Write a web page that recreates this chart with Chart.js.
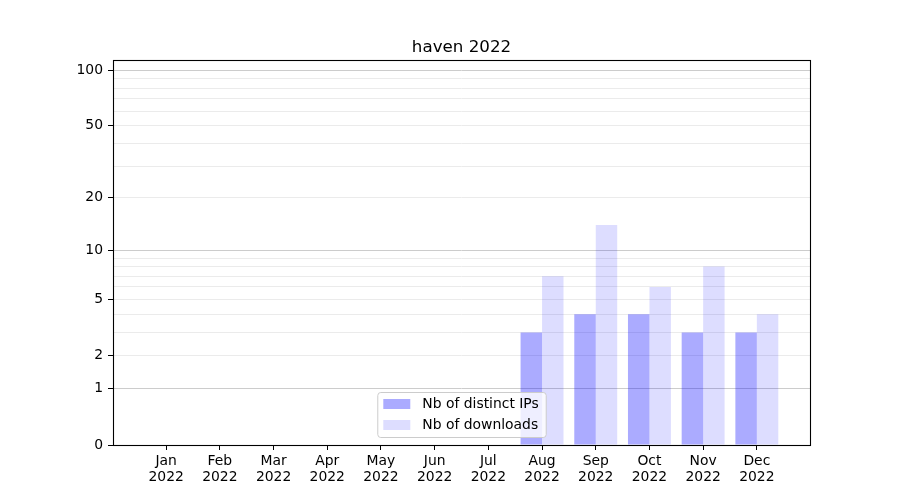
<!DOCTYPE html>
<html lang="en">
<head>
<meta charset="UTF-8" />
<title>haven 2022</title>
<script src="https://cdn.jsdelivr.net/npm/chart.js@4"></script>
<style>
  html, body { margin: 0; padding: 0; background: #fff; }
  #wrap { width: 900px; height: 500px; }
</style>
</head>
<body>
<div id="wrap"><canvas id="chart" width="900" height="500"></canvas></div>
<script>
    // --- data ---
    const months = ["Jan", "Feb", "Mar", "Apr", "May", "Jun", "Jul", "Aug", "Sep", "Oct", "Nov", "Dec"];
    const years = ["2022", "2022", "2022", "2022", "2022", "2022", "2022", "2022", "2022", "2022", "2022", "2022"];
    const distinctIPs = [0, 0, 0, 0, 0, 0, 0, 3, 4, 4, 3, 3];
    const downloads = [0, 0, 0, 0, 0, 0, 0, 7, 14, 6, 8, 4];
    const yTickLabels = [0, 1, 2, 5, 10, 20, 50, 100];
    const yMajorGrid = [1, 10, 100];
    const yMinorGrid = [2, 3, 4, 5, 6, 7, 8, 9, 20, 30, 40, 50, 60, 70, 80, 90];

    const FONT = "'DejaVu Sans', sans-serif";

    // y axis in matplotlib is a log(1 + x) "function" scale
    class Log1pScale extends Chart.Scale {
        static id = "log1p";
        static defaults = {};

        determineDataLimits() {
            const { min, max } = this.getMinMax(true);
            this.min = Number.isFinite(this.options.min) ? this.options.min : min;
            this.max = Number.isFinite(this.options.max) ? this.options.max : max;
        }

        buildTicks() {
            const all = [...new Set([0, ...yMajorGrid, ...yMinorGrid, ...yTickLabels])].sort((a, b) => a - b);
            return all.filter(v => v >= this.min && v <= this.max).map(v => ({ value: v }));
        }

        configure() {
            super.configure();
            this._lo = Math.log10(1 + this.min);
            this._span = Math.log10(1 + this.max) - this._lo;
        }

        getLabelForValue(v) { return String(v); }

        getPixelForValue(v) {
            return this.getPixelForDecimal((Math.log10(1 + v) - this._lo) / this._span);
        }

        getValueForPixel(p) {
            return Math.pow(10, this._lo + this.getDecimalForPixel(p) * this._span) - 1;
        }
    }
    Chart.register(Log1pScale);

    const frameAndLegend = {
        id: "frameAndLegend",
        afterDatasetsDraw(chart) {
            const { ctx, chartArea: a } = chart;
            ctx.save();
            // axes frame
            ctx.strokeStyle = "#000";
            ctx.lineWidth = 1.1;
            ctx.strokeRect(Math.round(a.left) + 0.5, Math.round(a.top) + 0.5,
                Math.round(a.right - a.left), Math.round(a.bottom - a.top));

            // legend, lower center inside the plot
            ctx.font = "13.9px " + FONT;
            const items = chart.data.datasets;
            const textW = Math.max(...items.map(d => ctx.measureText(d.label).width));
            const boxW = 6 + 27 + 12 + textW + 7;
            const rowH = 21;
            const boxH = 3 + rowH * items.length;
            const x0 = (a.left + a.right) / 2 - boxW / 2;
            const y0 = a.bottom - 8 - boxH;
            ctx.beginPath();
            ctx.roundRect(x0 + 0.5, y0 + 0.5, boxW, boxH, 3);
            ctx.fillStyle = "rgba(255,255,255,0.8)";
            ctx.fill();
            ctx.strokeStyle = "#cccccc";
            ctx.lineWidth = 1;
            ctx.stroke();
            items.forEach((d, i) => {
                const cy = y0 + 12 + i * rowH;
                ctx.fillStyle = d.backgroundColor;
                ctx.fillRect(x0 + 6, cy - 5, 27, 10);
                ctx.fillStyle = "#000";
                ctx.textBaseline = "middle";
                ctx.fillText(d.label, x0 + 45, cy);
            });
            ctx.restore();
        }
    };

    const ctx = document.getElementById("chart").getContext("2d");
    new Chart(ctx, {
        type: "bar",
        data: {
            datasets: [
                {
                    label: "Nb of distinct IPs",
                    data: distinctIPs.map((v, i) => ({ x: i, y: v })),
                    backgroundColor: "rgba(0,0,255,0.33)",
                    borderWidth: 0,
                    categoryPercentage: 0.8,
                    barPercentage: 1.0
                },
                {
                    label: "Nb of downloads",
                    data: downloads.map((v, i) => ({ x: i, y: v })),
                    backgroundColor: "rgba(0,0,255,0.135)",
                    borderWidth: 0,
                    categoryPercentage: 0.8,
                    barPercentage: 1.0
                }
            ]
        },
        options: {
            responsive: false,
            animation: false,
            layout: { padding: { left: 0, right: 90, top: 0, bottom: 0 } },
            plugins: {
                legend: { display: false },
                tooltip: { enabled: false },
                title: {
                    display: true,
                    fullSize: false,
                    text: "haven 2022",
                    color: "#000",
                    font: { family: FONT, size: 16.7, weight: "normal", lineHeight: 1.2 },
                    padding: { top: 38, bottom: 2 }
                }
            },
            scales: {
                x: {
                    type: "linear",
                    min: -0.99,
                    max: 11.99,
                    offset: false,
                    border: { display: false },
                    grid: {
                        offset: false,
                        drawOnChartArea: false,
                        drawTicks: true,
                        tickLength: 5,
                        tickColor: "#000"
                    },
                    afterBuildTicks: s => { s.ticks = months.map((m, i) => ({ value: i })); },
                    afterFit: s => { s.height = 55; },
                    ticks: {
                        autoSkip: false,
                        maxRotation: 0,
                        padding: 3,
                        color: "#000",
                        font: { family: FONT, size: 13.9, lineHeight: 1.18 },
                        callback: v => [months[v], years[v]]
                    }
                },
                y: {
                    type: "log1p",
                    min: 0,
                    max: 113.5,
                    border: { display: false },
                    grid: {
                        drawTicks: true,
                        tickLength: 5,
                        color: c => {
                            const v = c.tick ? c.tick.value : null;
                            if (yMajorGrid.includes(v)) return "#cccccc";
                            if (yMinorGrid.includes(v)) return "#ebebeb";
                            return "rgba(0,0,0,0)";
                        },
                        tickColor: c => (c.tick && yTickLabels.includes(c.tick.value)) ? "#000" : "rgba(0,0,0,0)"
                    },
                    afterFit: s => { s.width = 113; },
                    ticks: {
                        autoSkip: false,
                        padding: 5,
                        color: "#000",
                        font: { family: FONT, size: 13.9 },
                        callback: v => yTickLabels.includes(v) ? String(v) : ""
                    }
                }
            }
        },
        plugins: [frameAndLegend]
    });
</script>
</body>
</html>
